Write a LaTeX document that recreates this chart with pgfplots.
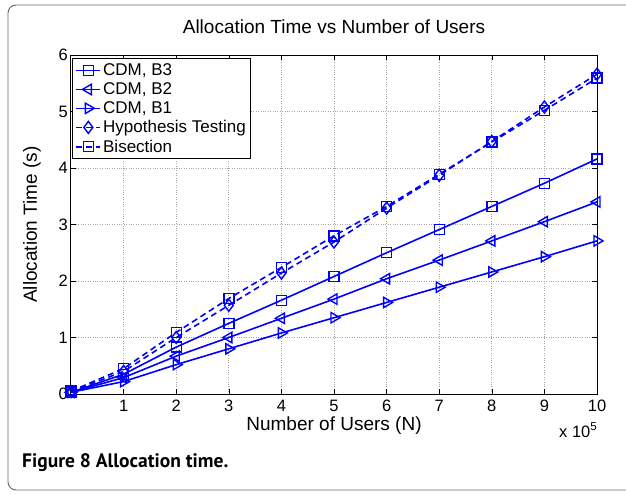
\documentclass[border=0pt]{standalone}
\usepackage{fontspec}
\setmainfont{Liberation Sans}
\newfontfamily\capfont{PT Sans}
\usepackage{pgfplots}
\pgfplotsset{compat=1.18}

\definecolor{mblue}{rgb}{0,0,1}
\definecolor{framegray}{gray}{0.4}

% open blue markers, colour and pen set inside each mark
\pgfdeclareplotmark{bsquare}{%
  \pgfsetstrokecolor{mblue}\pgfsetlinewidth{1.4pt}\pgfsetdash{}{0pt}%
  \pgfpathrectangle{\pgfpoint{-\pgfplotmarksize}{-\pgfplotmarksize}}%
    {\pgfpoint{2\pgfplotmarksize}{2\pgfplotmarksize}}%
  \pgfusepathqstroke}
\pgfdeclareplotmark{bdiamond}{%
  \pgfsetstrokecolor{mblue}\pgfsetlinewidth{1.4pt}\pgfsetdash{}{0pt}%
  \pgfpathmoveto{\pgfpoint{0pt}{\pgfplotmarksize}}%
  \pgfpathlineto{\pgfpoint{0.75\pgfplotmarksize}{0pt}}%
  \pgfpathlineto{\pgfpoint{0pt}{-\pgfplotmarksize}}%
  \pgfpathlineto{\pgfpoint{-0.75\pgfplotmarksize}{0pt}}%
  \pgfpathclose\pgfusepathqstroke}
\pgfdeclareplotmark{btriL}{%
  \pgfsetstrokecolor{mblue}\pgfsetlinewidth{1.4pt}\pgfsetdash{}{0pt}%
  \pgfpathmoveto{\pgfpoint{-\pgfplotmarksize}{0pt}}%
  \pgfpathlineto{\pgfpoint{0.5\pgfplotmarksize}{0.866\pgfplotmarksize}}%
  \pgfpathlineto{\pgfpoint{0.5\pgfplotmarksize}{-0.866\pgfplotmarksize}}%
  \pgfpathclose\pgfusepathqstroke}
\pgfdeclareplotmark{btriR}{%
  \pgfsetstrokecolor{mblue}\pgfsetlinewidth{1.4pt}\pgfsetdash{}{0pt}%
  \pgfpathmoveto{\pgfpoint{\pgfplotmarksize}{0pt}}%
  \pgfpathlineto{\pgfpoint{-0.5\pgfplotmarksize}{0.866\pgfplotmarksize}}%
  \pgfpathlineto{\pgfpoint{-0.5\pgfplotmarksize}{-0.866\pgfplotmarksize}}%
  \pgfpathclose\pgfusepathqstroke}

% allocation time (s) against number of users (x 10^5)
\pgfplotstableread{
n    ht    bis   bthree btwo  bone
0    0.04  0.05  0.03   0.03  0.03
1    0.40  0.45  0.35   0.29  0.22
2    1.00  1.09  0.83   0.67  0.52
3    1.57  1.69  1.25   1.00  0.80
4    2.14  2.24  1.66   1.34  1.08
5    2.69  2.80  2.08   1.68  1.35
6    3.29  3.32  2.50   2.04  1.62
7    3.87  3.89  2.91   2.37  1.89
8    4.47  4.46  3.32   2.71  2.16
9    5.08  5.02  3.73   3.05  2.43
10   5.66  5.59  4.16   3.40  2.71
}\alloc

\begin{document}
\begin{tikzpicture}[x=1pt,y=1pt]
\path[use as bounding box] (-71,-99) rectangle (555,394);
% rounded frame of the figure panel
\draw[framegray, line width=0.9pt, rounded corners=8pt]
  (560,389) -- (-63,389) -- (-63,-96) -- (560,-96);
\begin{axis}[
  at={(0,0)}, anchor=south west,
  width=526pt, height=339pt, scale only axis,
  xmin=0, xmax=10, ymin=0, ymax=6,
  xtick={1,2,...,10}, ytick={0,1,...,6},
  tick align=inside, tick pos=both,
  major tick length=5pt,
  every tick/.style={black, line width=0.6pt},
  axis line style={black, line width=1pt},
  grid=major,
  major grid style={gray!70, dotted, line width=0.7pt},
  /pgf/number format/assume math mode=true,
  ticklabel style={font=\fontsize{16.5}{18}\selectfont},
  yticklabel style={inner sep=0pt, xshift=-3pt},
  xticklabel style={inner sep=0pt, yshift=-6pt},
  xlabel={Number of Users (N)},
  ylabel={Allocation Time (s)},
  label style={font=\fontsize{19}{22}\selectfont},
  xlabel style={at={(axis description cs:0.5,0)}, anchor=base, yshift=-36pt},
  ylabel style={at={(axis description cs:0,0.5)}, anchor=base, yshift=34pt},
  title={Allocation Time vs Number of Users},
  title style={font=\fontsize{19}{22}\selectfont, at={(axis description cs:0.5,1)}, anchor=base, yshift=16pt},
  legend style={at={(axis description cs:0.002,0.99)}, anchor=north west,
    draw=black, line width=1pt, fill=white,
    font=\fontsize{17}{19}\selectfont,
    inner xsep=3pt, inner ysep=3pt, row sep=1.5pt},
  legend cell align=left,
  legend image code/.code={
    \draw[mark repeat=2, mark phase=2, #1]
      plot coordinates {(0pt,0pt) (12pt,0pt) (24pt,0pt)};},
  cdm/.style={mblue, line width=1.6pt},
]
\addplot[cdm, mark=bsquare, mark size=5pt]
  table[x=n, y=bthree] {\alloc};
\addlegendentry{CDM, B3}
\addplot[cdm, mark=btriL, mark size=6pt]
  table[x=n, y=btwo] {\alloc};
\addlegendentry{CDM, B2}
\addplot[cdm, mark=btriR, mark size=6pt]
  table[x=n, y=bone] {\alloc};
\addlegendentry{CDM, B1}
\addplot[cdm, dash pattern=on 6pt off 4pt, mark=bdiamond, mark size=6pt]
  table[x=n, y=ht] {\alloc};
\addlegendentry{Hypothesis Testing}
\addplot[cdm, dash pattern=on 6pt off 4pt, mark=bsquare, mark size=5pt]
  table[x=n, y=bis] {\alloc};
\addlegendentry{Bisection}
\end{axis}
% scale factor of the x axis
\node[anchor=base west, font=\fontsize{16.5}{18}\selectfont, inner sep=0pt] at (488,-43) {x 10\textsuperscript{5}};
% figure caption
\node[anchor=base west, inner sep=0pt, font=\capfont\bfseries\fontsize{19.5}{22}\selectfont] at (-49,-73) {Figure 8 Allocation time.};
\end{tikzpicture}
\end{document}
